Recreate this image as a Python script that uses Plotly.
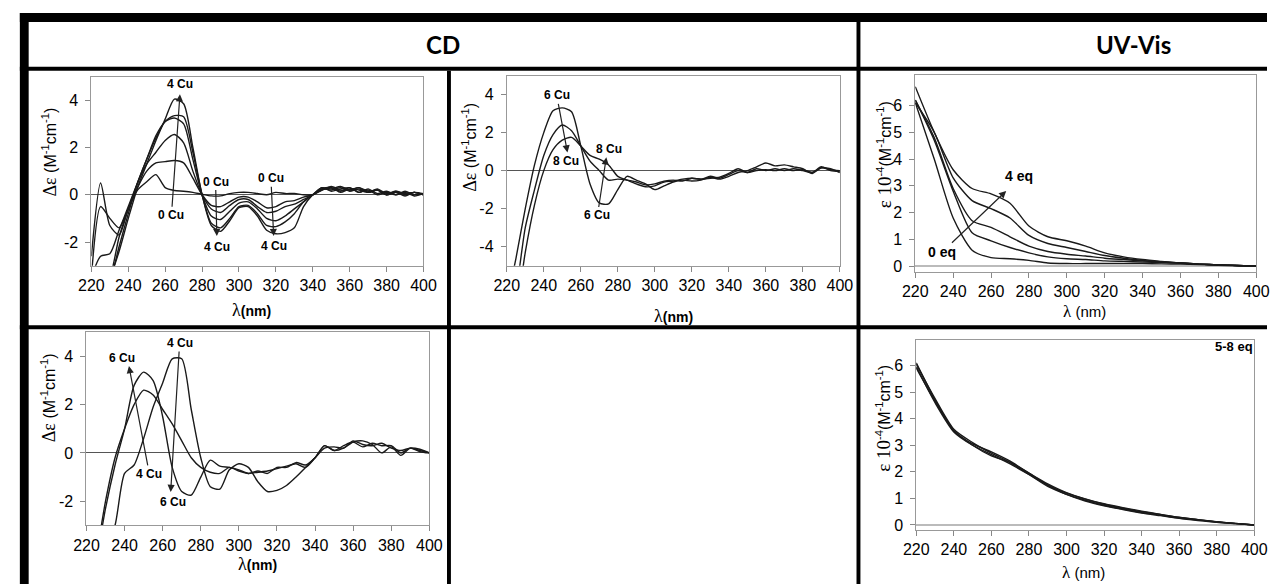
import plotly.graph_objects as go

# ---------------- data ----------------
WL_CD = list(range(220, 401, 5))
WL_UV = list(range(220, 401, 10))

# CD panel 1 (0 -> 4 Cu)
cd1_a = [-2.6, 0.5, -1.3, -1.7, -0.6, 0.2, 0.55, 0.85, 0.3, 0.18, 0.15, 0.1, 0.02, -0.05, -0.05, 0.05, 0.1, 0.1, 0.05, 0.0,
         0.1, 0.05, 0.05, 0.0, 0.0, 0.2, 0.3, 0.15, 0.3, 0.1, 0.2, 0.0, 0.1, 0.0, 0.15, 0.0, 0.05]
cd1_b = [-3.5, -0.5, -1.0, -1.4, -0.6, 0.3, 1.0, 1.35, 1.4, 1.45, 1.35, 0.7, 0.0, -0.45, -0.5, -0.3, -0.1, -0.1, -0.3, -0.55,
         -0.5, -0.3, -0.25, -0.1, 0.0, 0.25, 0.2, 0.3, 0.15, 0.25, 0.1, 0.2, 0.0, 0.1, -0.05, 0.1, 0.0]
cd1_c = [-3.5, -2.6, -2.5, -1.5, -0.5, 0.5, 1.3, 1.8, 2.3, 2.55, 2.2, 1.0, 0.0, -0.6, -0.75, -0.45, -0.2, -0.2, -0.5, -0.75,
         -0.7, -0.5, -0.4, -0.2, 0.0, 0.3, 0.15, 0.25, 0.3, 0.1, 0.25, 0.05, 0.15, 0.0, 0.1, -0.05, 0.05]
cd1_d = [-4.0, -4.0, -3.5, -1.8, -0.6, 0.5, 1.5, 2.4, 3.1, 3.25, 3.0, 1.5, 0.0, -0.9, -1.05, -0.7, -0.35, -0.3, -0.6, -1.0,
         -1.1, -0.9, -0.6, -0.3, 0.0, 0.25, 0.3, 0.1, 0.25, 0.2, 0.1, 0.2, 0.0, 0.1, 0.05, 0.1, 0.0]
cd1_e = [-4.0, -4.0, -3.6, -2.2, -0.8, 0.5, 1.5, 2.5, 3.1, 3.35, 3.3, 1.8, 0.0, -1.2, -1.4, -1.0, -0.5, -0.45, -0.8, -1.3,
         -1.35, -1.15, -0.8, -0.3, 0.0, 0.2, 0.35, 0.2, 0.2, 0.3, 0.1, 0.25, 0.05, 0.15, 0.0, 0.1, 0.05]
cd1_f = [-4.0, -4.0, -3.5, -2.4, -1.0, 0.3, 1.3, 2.3, 3.2, 4.05, 3.85, 2.0, 0.0, -1.3, -1.55, -1.1, -0.55, -0.5, -0.9, -1.5,
         -1.65, -1.6, -1.4, -0.5, 0.0, 0.3, 0.25, 0.35, 0.2, 0.3, 0.15, 0.2, 0.0, 0.15, 0.05, 0.1, 0.0]

# CD panel 2 (6 -> 8 Cu)
cd2_6cu = [-7.0, -4.6, -2.0, 0.3, 2.0, 3.15, 3.3, 3.1, 1.3, -0.7, -1.7, -1.75, -1.0, -0.3, -0.5, -0.7, -1.0, -0.8, -0.6, -0.5,
           -0.55, -0.5, -0.35, -0.45, -0.3, -0.1, 0.0, 0.2, 0.4, 0.25, 0.3, 0.2, 0.1, -0.15, 0.15, 0.1, -0.1]
cd2_7cu = [-8.0, -6.3, -3.0, -1.0, 0.8, 1.9, 2.4, 2.1, 1.3, 0.5, 0.0, -0.5, -0.45, -0.5, -0.6, -0.75, -0.7, -0.55, -0.5, -0.55,
           -0.4, -0.45, -0.3, -0.4, -0.2, 0.0, -0.1, 0.1, 0.0, 0.1, 0.0, 0.1, 0.0, -0.1, 0.2, 0.0, -0.05]
cd2_8cu = [-9.0, -7.5, -4.3, -1.8, 0.0, 1.1, 1.6, 1.75, 1.3, 0.8, 0.6, 0.3, -0.3, -0.5, -0.7, -0.85, -0.8, -0.6, -0.55, -0.45,
           -0.4, -0.45, -0.4, -0.35, -0.15, 0.1, -0.1, 0.0, 0.05, 0.0, 0.1, 0.0, 0.05, -0.1, 0.15, 0.05, 0.0]

# CD panel 3 (4, 5, 6 Cu)
cd3_4cu = [-5.0, -4.5, -4.0, -3.0, -0.85, -0.5, 0.6, 1.9, 2.9, 3.9, 3.9, 1.8, -0.2, -1.4, -1.5, -0.7, -0.45, -0.6, -1.2, -1.6,
           -1.55, -1.35, -1.0, -0.6, -0.2, 0.3, 0.1, 0.2, 0.45, 0.5, 0.35, 0.0, 0.25, -0.1, 0.2, 0.05, 0.0]
cd3_5cu = [-6.0, -4.3, -2.0, -0.2, 1.0, 2.0, 2.6, 2.4, 1.8, 1.2, 0.5, -0.2, -0.6, -0.8, -0.85, -0.6, -0.75, -0.85, -0.8, -0.75,
           -0.65, -0.55, -0.45, -0.6, -0.2, 0.2, 0.25, 0.2, 0.5, 0.35, 0.3, 0.4, 0.2, 0.1, 0.2, 0.15, 0.0]
cd3_6cu = [-6.0, -4.5, -2.3, -0.5, 1.0, 2.8, 3.35, 3.0, 1.5, -0.6, -1.6, -1.75, -1.0, -0.3, -0.55, -0.6, -0.7, -0.85, -0.75, -0.85,
           -0.6, -0.6, -0.4, -0.5, -0.2, 0.3, 0.1, 0.3, 0.45, 0.25, 0.4, 0.3, 0.3, 0.0, 0.2, 0.1, 0.0]

# UV-Vis 0 -> 4 eq  (x 10^-4)
uv_0eq = [6.1, 4.0, 1.8, 0.6, 0.32, 0.28, 0.22, 0.12, 0.1, 0.1, 0.1, 0.1, 0.1, 0.09, 0.08, 0.06, 0.04, 0.02, 0.0]
uv_1eq = [6.2, 4.7, 2.8, 1.25, 0.95, 0.7, 0.5, 0.35, 0.28, 0.25, 0.2, 0.18, 0.16, 0.14, 0.12, 0.08, 0.05, 0.03, 0.0]
uv_2eq = [6.2, 4.8, 2.9, 1.7, 1.45, 1.1, 0.75, 0.55, 0.45, 0.38, 0.3, 0.25, 0.2, 0.16, 0.12, 0.08, 0.05, 0.03, 0.0]
uv_3eq = [6.1, 5.0, 3.3, 2.45, 2.15, 1.8, 1.15, 0.85, 0.7, 0.55, 0.4, 0.3, 0.22, 0.17, 0.12, 0.08, 0.05, 0.03, 0.0]
uv_4eq = [6.7, 5.0, 3.6, 2.9, 2.7, 2.35, 1.5, 1.1, 0.95, 0.75, 0.5, 0.35, 0.25, 0.18, 0.12, 0.08, 0.05, 0.03, 0.0]

# UV-Vis 5 -> 8 eq
uv_5eq = [6.1, 4.7, 3.55, 3.05, 2.75, 2.4, 1.95, 1.5, 1.2, 0.97, 0.78, 0.63, 0.5, 0.4, 0.28, 0.2, 0.12, 0.06, 0.0]
uv_6eq = [6.05, 4.75, 3.6, 3.1, 2.7, 2.35, 1.9, 1.45, 1.15, 0.93, 0.74, 0.6, 0.47, 0.37, 0.26, 0.19, 0.11, 0.05, 0.0]
uv_7eq = [5.95, 4.6, 3.5, 3.0, 2.65, 2.3, 1.9, 1.5, 1.15, 0.9, 0.72, 0.58, 0.45, 0.35, 0.25, 0.17, 0.1, 0.05, 0.0]
uv_8eq = [5.9, 4.65, 3.55, 3.0, 2.6, 2.35, 1.95, 1.55, 1.22, 0.98, 0.8, 0.65, 0.52, 0.4, 0.29, 0.2, 0.12, 0.06, 0.0]

X_TICKS = [220, 240, 260, 280, 300, 320, 340, 360, 380, 400]
CD1_YTICKS = [-2, 0, 2, 4]
CD2_YTICKS = [-4, -2, 0, 2, 4]
UV_YTICKS = [0, 1, 2, 3, 4, 5, 6]

# ---------------- layout helpers ----------------
W, H = 1280, 587
def PX(x): return x / W
def PY(y): return 1 - y / H

LINE = '#1a1a1a'
fig = go.Figure()

panels = [
    ('x', 'y', (80, 419), (77, 267), [-3, 5], CD1_YTICKS,
     [cd1_a, cd1_b, cd1_c, cd1_d, cd1_e, cd1_f], WL_CD, '#555555', 1),
    ('x2', 'y2', (504, 844), (76, 267), [-5, 5], CD2_YTICKS,
     [cd2_6cu, cd2_7cu, cd2_8cu], WL_CD, '#555555', 1),
    ('x3', 'y3', (921, 1269), (75, 273), [-0.2, 7.15], UV_YTICKS,
     [uv_0eq, uv_1eq, uv_2eq, uv_3eq, uv_4eq], WL_UV, '#bbbbbb', 2),
    ('x4', 'y4', (75, 425), (334, 528), [-3, 5], CD1_YTICKS,
     [cd3_4cu, cd3_5cu, cd3_6cu], WL_CD, '#555555', 1),
    ('x5', 'y5', (922, 1267), (342, 533), [-0.2, 6.95], UV_YTICKS,
     [uv_5eq, uv_6eq, uv_7eq, uv_8eq], WL_UV, '#bbbbbb', 2),
]

tickfont = dict(family='Liberation Sans, Arial', size=16, color='black')
layout = {}
for xn, yn, (x0, x1), (yt, yb), yr, yt_vals, series, wl, zc, zw in panels:
    for s in series:
        fig.add_trace(go.Scatter(x=wl, y=s, xaxis=xn, yaxis=yn, mode='lines',
                                 line=dict(color=LINE, width=1.4, shape='spline', smoothing=0.7),
                                 showlegend=False, hoverinfo='skip'))
    xkey = 'xaxis' + xn[1:]
    ykey = 'yaxis' + yn[1:]
    layout[xkey] = dict(domain=[PX(x0), PX(x1)], anchor=yn, range=[220, 400],
                        tickvals=X_TICKS, ticks='outside', ticklen=5, tickcolor='#888888',
                        showline=True, linecolor='#999999', linewidth=1, mirror=True,
                        showgrid=False, zeroline=False, tickfont=tickfont, fixedrange=True)
    layout[ykey] = dict(domain=[PY(yb), PY(yt)], anchor=xn, range=yr,
                        tickvals=yt_vals, ticktext=[str(v) for v in yt_vals],
                        ticks='outside', ticklen=5, tickcolor='#888888',
                        showline=True, linecolor='#999999', linewidth=1, mirror=True,
                        showgrid=False, zeroline=True, zerolinecolor=zc, zerolinewidth=zw,
                        tickfont=tickfont, ticklabelstandoff=4, fixedrange=True)

fig.update_layout(**layout)

# ---------------- table borders ----------------
shapes = []
def block(x0, y0, x1, y1):
    shapes.append(dict(type='rect', xref='paper', yref='paper', x0=PX(x0), x1=PX(x1),
                       y0=PY(y1), y1=PY(y0), fillcolor='black', line=dict(width=0), layer='above'))
block(7, 13, 1280, 22)      # top border
block(7, 13, 16, 587)       # left border
block(7, 67, 1280, 71)      # header bottom
block(861, 22, 865, 587)    # CD | UV divider
block(7, 327, 1280, 331)    # row divider
block(443, 71, 447, 587)    # CD column divider
fig.update_layout(shapes=shapes)

# ---------------- annotations ----------------
ann = []
def header(text, x, y):
    ann.append(dict(text=text, xref='paper', yref='paper', x=PX(x), y=PY(y), showarrow=False,
                    xanchor='center', yanchor='middle',
                    font=dict(family='Lato, Open Sans', size=24, color='black')))
header('<b>CD</b>', 439, 45)
header('<b>UV-Vis</b>', 1144, 45)

def title(text, x, y, angle=0, size=15):
    ann.append(dict(text=text, xref='paper', yref='paper', x=PX(x), y=PY(y), showarrow=False,
                    xanchor='center', yanchor='middle', textangle=angle,
                    font=dict(family='Liberation Sans, Arial', size=size, color='black')))

cd_y = ("<span style='font-family:Liberation Serif;font-size:18px'>Δε</span> (M<sup>-1</sup>cm<sup>-1</sup>)")
uv_y = ("<span style='font-family:Liberation Serif;font-size:19px'>ε 10</span><sup>-4</sup>(M<sup>-1</sup>cm<sup>-1</sup>)")
cd_x = "<span style='font-family:Liberation Serif;font-size:18px'>λ</span><b>(nm)</b>"
uv_x = "<span style='font-family:Liberation Serif;font-size:17px'>λ</span> (nm)"

title(cd_y, 37, 153, -90, 16)
title(cd_y, 466, 148, -90, 16)
title(uv_y, 889, 155, -90, 16)
title(cd_y, 37, 400, -90, 16)
title(uv_y, 889, 420, -90, 16)
title(cd_x, 243, 312, 0, 14)
title(cd_x, 674, 318, 0, 14)
title(uv_x, 1094, 313, 0, 15)
title(cd_x, 250, 567, 0, 14)
title(uv_x, 1093, 575, 0, 15)

LBL = dict(family='Liberation Sans, Arial', size=12, color='black')
LBL_UV = dict(family='Liberation Sans, Arial', size=14, color='black')
def label(text, x, y, xn, yn, font=LBL):
    ann.append(dict(text='<b>%s</b>' % text, xref=xn, yref=yn, x=x, y=y, showarrow=False,
                    xanchor='center', yanchor='middle', font=font))
def arrow(text, tx, ty, hx, hy, xn, yn, font=LBL):
    ann.append(dict(text='<b>%s</b>' % text, xref=xn, yref=yn, x=hx, y=hy, ax=tx, ay=ty,
                    axref=xn, ayref=yn, showarrow=True, arrowhead=2, arrowsize=1.2,
                    arrowwidth=1.2, arrowcolor='#222222', standoff=0, startstandoff=0, font=font))

# panel 1
label('4 Cu', 267.8, 4.7, 'x', 'y')
arrow('0 Cu', 263.4, -0.87, 268, 4.25, 'x', 'y')
arrow('0 Cu', 287.3, 0.56, 288, -1.75, 'x', 'y')
label('4 Cu', 288, -2.2, 'x', 'y')
arrow('0 Cu', 317.3, 0.7, 318.8, -1.75, 'x', 'y')
label('4 Cu', 319, -2.15, 'x', 'y')
# panel 2
arrow('6 Cu', 247, 3.96, 252.8, 0.96, 'x2', 'y2')
label('8 Cu', 252, 0.52, 'x2', 'y2')
arrow('6 Cu', 269, -2.36, 273.8, 0.7, 'x2', 'y2')
label('8 Cu', 275, 1.13, 'x2', 'y2')
# panel 3 (UV)
arrow('0 eq', 234.1, 0.52, 268, 2.81, 'x3', 'y3', LBL_UV)
label('4 eq', 274.6, 3.37, 'x3', 'y3', LBL_UV)
# panel 4
label('6 Cu', 238.9, 3.95, 'x4', 'y4')
arrow('4 Cu', 253, -0.87, 242.3, 3.6, 'x4', 'y4')
arrow('4 Cu', 268.9, 4.56, 264.2, -1.62, 'x4', 'y4')
label('6 Cu', 265.4, -2.03, 'x4', 'y4')
# panel 5
label('5-8 eq', 389, 6.7, 'x5', 'y5', dict(family='Liberation Sans, Arial', size=13, color='black'))

fig.update_layout(annotations=ann, width=W, height=H, margin=dict(l=0, r=0, t=0, b=0),
                  paper_bgcolor='white', plot_bgcolor='white', showlegend=False)

fig.write_html('out.html', config={'displayModeBar': False})
